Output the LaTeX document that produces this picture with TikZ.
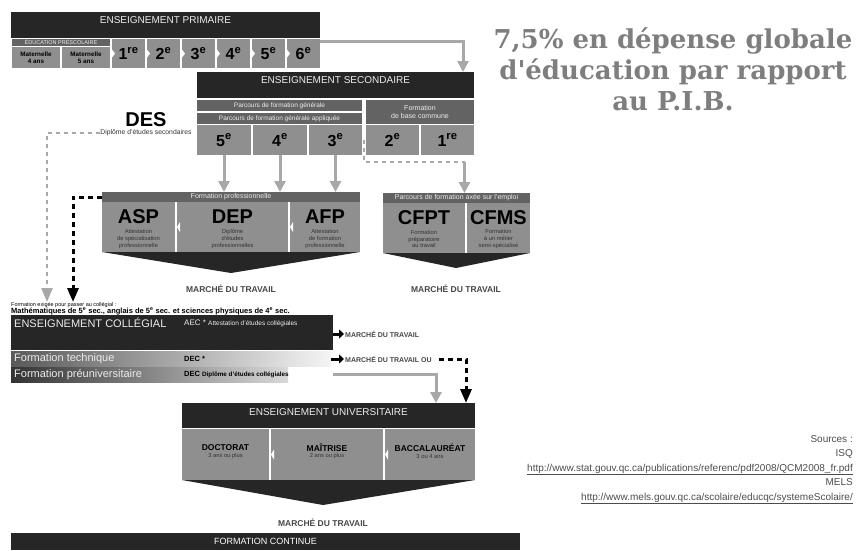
\documentclass[tikz,border=0pt]{standalone}
\usepackage{fontspec}
\setmainfont{Liberation Sans}
\newfontfamily\titlefont{DejaVu Serif}
\usetikzlibrary{positioning, calc, arrows.meta}

\definecolor{barblack}{HTML}{262626}
\definecolor{boxgray}{HTML}{8F8F8F}
\definecolor{bandgray}{HTML}{636363}
\definecolor{arrowgray}{HTML}{A8A8A8}
\definecolor{textgray}{HTML}{474747}
\definecolor{titlegray}{HTML}{7E7E7E}

\begin{document}
\begin{tikzpicture}[x=1pt, y=-1pt,
    cell/.style 2 args={anchor=north west, inner sep=0pt, outer sep=0pt, minimum width=#1pt, minimum height=#2pt},
    darkbar/.style={fill=barblack},
    graybox/.style={fill=boxgray, align=center},
    band/.style={fill=bandgray, text=white!85!gray, font=\fontsize{6.5}{7.5}\selectfont, align=center},
    bartext/.style={text=white!85!gray, font=\fontsize{10}{10}\selectfont, inner sep=0pt},
    grade/.style={font=\bfseries\fontsize{16}{16}\selectfont},
    bigtag/.style={font=\bfseries\fontsize{20}{20}\selectfont, inner sep=0pt},
    subtag/.style={font=\fontsize{5.8}{6.8}\selectfont, align=center, inner sep=0pt, text=black!80},
    univtag/.style={font=\bfseries\fontsize{8.5}{8.5}\selectfont, inner sep=0pt},
    marche/.style={font=\bfseries\fontsize{8.5}{8.5}\selectfont, text=textgray, inner sep=1pt},
    collmarche/.style={font=\bfseries\fontsize{7}{7}\selectfont, text=textgray, inner sep=1pt, anchor=west},
    colltext/.style={anchor=west, inner sep=0pt, text=white!85!gray, font=\fontsize{11}{11}\selectfont},
    grayarrow/.style={draw=arrowgray, line width=3pt, -{Triangle[width=11pt,length=11pt]}},
    graydash/.style={draw=arrowgray, line width=2.5pt, dash pattern=on 4pt off 4pt},
    blackdash/.style={draw=black, line width=3pt, dash pattern=on 5pt off 4pt},
    blackhead/.style={-{Triangle[width=11pt,length=14pt]}},
    blackarrow/.style={draw=black, line width=3pt, -{Triangle[width=9pt,length=5pt]}},
    chevron/.style={fill=barblack},
    notch/.style={fill=white}]
  \useasboundingbox (0,0) rectangle (857,550);

  \node[cell={309}{26}, darkbar] (prim) at (11,12) {};
  \node[bartext] (primtitle) at ([yshift=-8pt]prim.north) {ENSEIGNEMENT PRIMAIRE};
  \node[cell={98}{7}, band, font=\fontsize{5.5}{6}\selectfont] (presco) at (12,39) {ÉDUCATION PRÉSCOLAIRE};
  \node[cell={48}{21}, graybox, font=\bfseries\fontsize{6.3}{6.5}\selectfont] (mat4) at (12,47) {Maternelle\\4 ans};
  \node[cell={48}{21}, graybox, font=\bfseries\fontsize{6.3}{6.5}\selectfont] (mat5) at (62,47) {Maternelle\\5 ans};
  \foreach \g [count=\i] in {{1\textsuperscript{re}},{2\textsuperscript{e}},{3\textsuperscript{e}},{4\textsuperscript{e}},{5\textsuperscript{e}},{6\textsuperscript{e}}} {
    \node[cell={33}{29}, graybox, grade] (g\i) at ({112+(\i-1)*35},39) {\g};
    \fill[notch] (g\i.west) ++(0,-4) -- ++(3,4) -- ++(-3,4) -- cycle;
  }

  \node[cell={277}{26}, darkbar] (sec) at (197,72) {};
  \node[bartext] (sectitle) at ([yshift=-8pt]sec.north) {ENSEIGNEMENT SECONDAIRE};
  \node[cell={165}{11}, band] (pfg) at (197,100) {Parcours de formation générale};
  \node[cell={165}{11}, band] (pfga) at (197,113) {Parcours de formation générale appliquée};
  \node[cell={54}{30}, graybox, grade] (s5) at (197,125) {5\textsuperscript{e}};
  \node[cell={54}{30}, graybox, grade] (s4) at (253,125) {4\textsuperscript{e}};
  \node[cell={53}{30}, graybox, grade] (s3) at (309,125) {3\textsuperscript{e}};
  \node[cell={108}{24}, band, font=\fontsize{7}{8}\selectfont] (fbc) at (366,100) {Formation\\de base commune};
  \node[cell={53}{30}, graybox, grade] (s2) at (366,125) {2\textsuperscript{e}};
  \node[cell={53}{30}, graybox, grade] (s1) at (421,125) {1\textsuperscript{re}};

  \draw[grayarrow] ([yshift=-2pt]g6.north east) -| ([xshift=-11pt]sec.north east);

  \node[bigtag] (des) at (146,120) {DES};
  \node[subtag, font=\fontsize{6.8}{7}\selectfont] (desfull) at (146,133) {Diplôme d'études secondaires};

  \node[cell={258}{10}, band, font=\fontsize{7}{7}\selectfont] (fp) at (102,192) {Formation professionnelle};
  \node[cell={73}{50}, graybox] (asp) at (102,202) {};
  \node[cell={111}{50}, graybox] (dep) at (177,202) {};
  \node[cell={70}{50}, graybox] (afp) at (290,202) {};
  \node[bigtag] (aspname) at ([yshift=-15pt]asp.north) {ASP};
  \node[subtag] (aspsub) at ([yshift=-37pt]asp.north) {Attestation\\de spécialisation\\professionnelle};
  \node[bigtag] (depname) at ([yshift=-15pt]dep.north) {DEP};
  \node[subtag] (depsub) at ([yshift=-37pt]dep.north) {Diplôme\\d'études\\professionnelles};
  \node[bigtag] (afpname) at ([yshift=-15pt]afp.north) {AFP};
  \node[subtag] (afpsub) at ([yshift=-37pt]afp.north) {Attestation\\de formation\\professionnelle};
  \fill[notch] (dep.west) ++(3,-5) -- ++(-3,5) -- ++(3,5) -- cycle;
  \fill[notch] (afp.west) ++(3,-5) -- ++(-3,5) -- ++(3,5) -- cycle;
  \fill[chevron] (asp.south west) -- (afp.south east) -- ($(asp.south west)!0.5!(afp.south east)+(0,21)$) -- cycle;
  \node[marche] (mt1) at (231,289) {MARCHÉ DU TRAVAIL};

  \node[cell={147}{10}, band, font=\fontsize{7}{7}\selectfont] (cfhdr) at (383,193) {Parcours de formation axée sur l'emploi};
  \node[cell={82}{50}, graybox] (cfpt) at (383,203) {};
  \node[cell={63}{50}, graybox] (cfms) at (467,203) {};
  \node[bigtag] (cfptname) at ([yshift=-15pt]cfpt.north) {CFPT};
  \node[subtag] (cfptsub) at ([yshift=-36pt]cfpt.north) {Formation\\préparatoire\\au travail};
  \node[bigtag] (cfmsname) at ([yshift=-15pt]cfms.north) {CFMS};
  \node[subtag] (cfmssub) at ([yshift=-36pt]cfms.north) {Formation\\à un métier\\semi-spécialisé};
  \fill[chevron] (cfpt.south west) -- (cfms.south east) -- (456,268) -- cycle;
  \node[marche] (mt2) at (456,289) {MARCHÉ DU TRAVAIL};

  \foreach \s in {s5,s4,s3}
    \draw[grayarrow] (\s.south) -- (\s.south |- fp.north);
  \coordinate (secexit) at ($(s1.south)+(17,7)$);
  \draw[graydash] ($(s3.east)+(2,0)$) |- (secexit);
  \draw[grayarrow] (secexit) -- (secexit |- cfhdr.north);

  \node[anchor=north west, align=left, inner sep=0pt, font=\fontsize{5.5}{7}\selectfont] (exig) at (11,302)
    {Formation exigée pour passer au collégial :\\{\bfseries\fontsize{7.5}{7}\selectfont\underline{Mathématiques de 5\textsuperscript{e} sec., anglais de 5\textsuperscript{e} sec. et sciences physiques de 4\textsuperscript{e} sec.}}};

  \coordinate (desturn) at (47,133);
  \draw[graydash, blackhead] (desfull.west) -- (desturn) -- (desturn |- exig.north);
  \coordinate (aspturn) at (73,197);
  \draw[blackdash, blackhead] (fp.west) -- (aspturn) -- (aspturn |- exig.north);

  \node[cell={322}{35}, darkbar] (coll) at (11,315) {};
  \node[colltext] (colltitle) at (14,323) {ENSEIGNEMENT COLLÉGIAL};
  \node[anchor=west, inner sep=0pt, text=white!85!gray, font=\fontsize{8}{8}\selectfont] (aec) at (184,323) {AEC * {\fontsize{6.5}{6.5}\selectfont Attestation d'études collégiales}};
  \node[cell={320}{15}, left color=black!65, right color=black!4] (tech) at (11,351) {};
  \node[colltext] (techname) at (14,359) {Formation technique};
  \node[anchor=west, inner sep=0pt, font=\bfseries\fontsize{7.5}{7.5}\selectfont] (dectech) at (184,359) {DEC *};
  \node[cell={277}{15}, left color=black!80, right color=black!15] (preu) at (11,367) {};
  \node[colltext] (preuname) at (14,375) {Formation préuniversitaire};
  \node[anchor=west, inner sep=0pt, font=\bfseries\fontsize{7.5}{7.5}\selectfont] (decpre) at (184,375) {DEC {\fontsize{6.3}{6.3}\selectfont Diplôme d'études collégiales}};

  \node[collmarche] (mtc1) at (344,334) {MARCHÉ DU TRAVAIL};
  \node[collmarche] (mtc2) at (344,359) {MARCHÉ DU TRAVAIL OU};
  \draw[blackarrow] (coll.east |- mtc1) -- (mtc1.west);
  \draw[blackarrow] (tech.east |- mtc2) -- (mtc2.west);

  \node[cell={293}{25}, darkbar] (univ) at (182,403) {};
  \node[bartext] (univtitle) at ([yshift=-9pt]univ.north) {ENSEIGNEMENT UNIVERSITAIRE};
  \coordinate (outurn) at (466,359);
  \draw[blackdash, blackhead] ([xshift=6pt]mtc2.east) -- (outurn) -- (outurn |- univ.north);
  \coordinate (preuturn) at (436,374);
  \draw[grayarrow] (coll.east |- preuturn) -- (preuturn) -- (preuturn |- univ.north);

  \node[cell={87}{51}, graybox] (doct) at (182,429) {};
  \node[cell={112}{51}, graybox] (mait) at (271,429) {};
  \node[cell={90}{51}, graybox] (bacc) at (385,429) {};
  \node[univtag] (doctname) at ([yshift=-19pt]doct.north) {DOCTORAT};
  \node[subtag] (doctsub) at ([yshift=-27pt]doct.north) {3 ans ou plus};
  \node[univtag] (maitname) at ([yshift=-19pt]mait.north) {MAÎTRISE};
  \node[subtag] (maitsub) at ([yshift=-27pt]mait.north) {2 ans ou plus};
  \node[univtag] (baccname) at ([yshift=-19pt]bacc.north) {BACCALAURÉAT};
  \node[subtag] (baccsub) at ([yshift=-27pt]bacc.north) {3 ou 4 ans};
  \fill[notch] (mait.west) ++(3,-5) -- ++(-3,5) -- ++(3,5) -- cycle;
  \fill[notch] (bacc.west) ++(3,-5) -- ++(-3,5) -- ++(3,5) -- cycle;
  \fill[chevron] (doct.south west) -- (bacc.south east) -- (323,505) -- cycle;
  \node[marche] (mt3) at (323,523) {MARCHÉ DU TRAVAIL};

  \node[cell={509}{17}, darkbar, text=white, font=\fontsize{9}{9}\selectfont] (fc) at (11,533) {FORMATION CONTINUE};

  \node[align=center, text=titlegray, font=\titlefont\bfseries\fontsize{26}{31}\selectfont] (titre) at (673,69)
    {7,5\% en dépense globale\\d'éducation par rapport\\au P.I.B.};

  \node[anchor=north east, align=right, inner sep=0pt, text=black!70, font=\fontsize{10}{14.5}\selectfont] (src) at (853,435)
    {Sources :\\ISQ\\\underline{http://www.stat.gouv.qc.ca/publications/referenc/pdf2008/QCM2008\_fr.pdf}\\MELS\\\underline{http://www.mels.gouv.qc.ca/scolaire/educqc/systemeScolaire/}};
\end{tikzpicture}
\end{document}
